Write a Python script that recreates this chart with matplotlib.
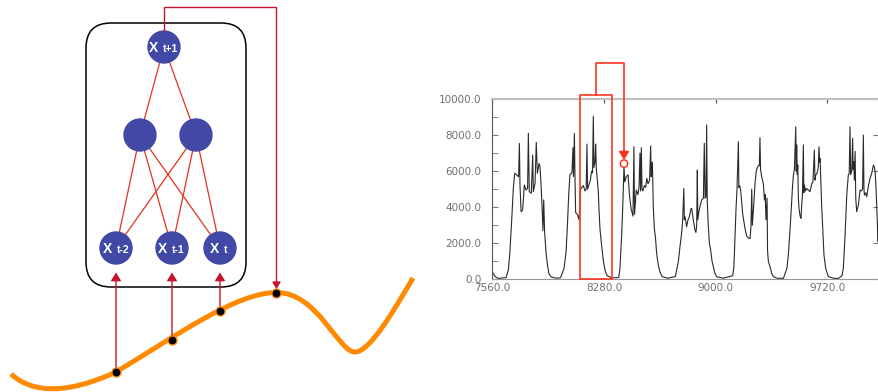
import numpy as np
import matplotlib.pyplot as plt
from matplotlib.patches import Circle, FancyBboxPatch, Rectangle, PathPatch
from matplotlib.path import Path

# ----------------------------------------------------------
# data: time series (index, value)
# ----------------------------------------------------------
ts_x = [7560, 7577, 7598, 7648, 7663, 7673, 7684, 7695, 7704, 7717, 7729, 7734, 7738, 7745,
        7755, 7766, 7777, 7787, 7792, 7798, 7811, 7820, 7824, 7835, 7843, 7850, 7861, 7867,
        7873, 7880, 7886, 7891, 7897, 7906, 7915, 7925, 7940, 7975, 8000,
        8022, 8035, 8043, 8052, 8060, 8073, 8080, 8083, 8089, 8093, 8097, 8108, 8119, 8129,
        8147, 8157, 8165, 8170, 8174, 8185, 8192, 8200, 8206, 8211, 8215, 8222, 8226, 8230,
        8236, 8243, 8248, 8254, 8263, 8276, 8288, 8300, 8330, 8375,
        8383, 8394, 8402, 8409, 8414, 8424, 8435, 8445, 8455, 8467, 8473, 8477, 8488, 8499,
        8506, 8512, 8516, 8521, 8525, 8531, 8540, 8549, 8556, 8564, 8574, 8581, 8584, 8588,
        8592, 8598, 8605, 8612, 8620, 8630, 8641, 8655, 8690, 8740,
        8760, 8770, 8781, 8787, 8795, 8798, 8803, 8813, 8822, 8831, 8840, 8846, 8856, 8867,
        8873, 8878, 8882, 8885, 8893, 8899, 8910, 8921, 8927, 8932, 8938, 8942, 8946, 8952,
        8960, 8968, 8977, 8985, 8995, 9007, 9050,
        9110, 9118, 9125, 9132, 9138, 9147, 9150, 9155, 9162, 9175, 9190, 9200, 9211, 9222,
        9228, 9233, 9237, 9245, 9254, 9262, 9269, 9276, 9282, 9286, 9290, 9297, 9308, 9315,
        9320, 9325, 9332, 9335, 9340, 9351, 9362, 9373, 9394, 9437,
        9460, 9469, 9478, 9487, 9495, 9502, 9508, 9517, 9520, 9523, 9527, 9530, 9534, 9538,
        9545, 9551, 9556, 9560, 9566, 9569, 9573, 9580, 9588, 9598, 9609, 9620, 9628, 9637,
        9641, 9646, 9655, 9662, 9667, 9671, 9674, 9678, 9684, 9691, 9699, 9710, 9727, 9760,
        9792,
        9815, 9824, 9835, 9846, 9856, 9862, 9867, 9871, 9878, 9884, 9887, 9891, 9895, 9900,
        9904, 9910, 9921, 9932, 9940, 9948, 9953, 9957, 9960, 9968, 9975, 9985, 9996, 10007,
        10018, 10025, 10029, 10035, 10039, 10044, 10046, 10054]
ts_y = [400, 150, 50, 90, 520, 1530, 3200, 5050, 5880, 5780, 5690, 7540, 5230, 3750,
        3840, 5230, 4950, 5040, 8100, 4860, 4770, 6900, 4860, 5320, 7600, 5880, 6430, 6250,
        5410, 4120, 2700, 4400, 2600, 1500, 800, 300, 120, 60, 90,
        600, 1500, 2800, 4650, 5800, 5900, 7300, 5700, 8100, 5500, 3700, 3600, 3300, 5000,
        5200, 4900, 5000, 7500, 5000, 5300, 5500, 6000, 5900, 9050, 6200, 6500, 7500, 6200,
        5600, 4900, 3800, 2800, 2000, 1000, 450, 200, 80, 100,
        600, 2450, 4300, 6300, 5400, 5700, 5800, 4600, 3900, 3500, 7350, 3600, 4950, 4700,
        5100, 7000, 4900, 7300, 5000, 4900, 5200, 5100, 5600, 5300, 5500, 7400, 5700, 5900,
        6500, 4000, 2800, 2300, 1400, 800, 400, 150, 60, 150,
        1000, 1800, 2600, 3200, 5040, 3300, 3470, 2920, 3300, 3470, 3900, 3930, 3300, 2730,
        2600, 3000, 6060, 3300, 3800, 4030, 4400, 4490, 7540, 4500, 4580, 8560, 4400, 3100,
        2000, 1620, 1000, 700, 350, 140, 60,
        200, 700, 2300, 4000, 5000, 7630, 5100, 5200, 4900, 3600, 2800, 2400, 2300, 2250,
        2900, 5000, 3000, 4000, 5300, 6000, 6200, 6300, 6300, 7850, 6100, 5700, 5300, 4400,
        4700, 3300, 4500, 1600, 1000, 700, 330, 145, 60, 50,
        600, 1350, 2500, 3750, 5000, 5780, 6060, 8460, 6000, 7450, 5800, 6340, 4500, 3930,
        3500, 3380, 4200, 4670, 7450, 4800, 5230, 4900, 5040, 4950, 4860, 5300, 5400, 7170,
        5500, 5780, 5900, 6200, 7350, 6500, 6700, 5700, 4120, 2830, 1350, 610, 150, 60,
        50,
        200, 610, 2450, 4670, 5780, 5900, 8460, 5800, 6000, 7820, 6100, 6520, 5500, 7100,
        4500, 3750, 4120, 4950, 4900, 5000, 8000, 5000, 4670, 4800, 4580, 5140, 5600, 5880,
        6340, 6200, 5970, 5000, 4120, 3000, 2090, 2000]

xtick_vals = [7560, 8280, 9000, 9720]
ytick_vals = [0, 2000, 4000, 6000, 8000, 10000]

# ----------------------------------------------------------
# diagram geometry (pixel space, y down)
# ----------------------------------------------------------
# orange signal curve as cubic bezier segments: start, ctrl1, ctrl2, end ...
curve_pts = [(11, 374),
             (33, 394), (68, 394), (116, 372),
             (176, 336), (236, 292.5), (276.5, 292.5),
             (318, 292.5), (338, 352), (355, 352),
             (370, 352), (394, 310), (413, 278)]

samples_x = [116, 172, 220, 276.5]
samples_y = [371.5, 339.5, 311, 292.5]

nodes = {
    "t+1": (164, 47),
    "h1": (140, 135),
    "h2": (196, 135),
    "t-2": (116, 248),
    "t-1": (172, 248),
    "t": (220, 248),
}
edges = [("t+1", "h1"), ("t+1", "h2"),
         ("h1", "t-2"), ("h1", "t-1"), ("h1", "t"),
         ("h2", "t-2"), ("h2", "t-1"), ("h2", "t")]
x_end = {"t+1": -6, "t-2": -4, "t-1": -5, "t": -1}

node_col = "#4148a6"
edge_col = "#e4321e"
arrow_col = "#c4162c"
orange = "#ff8a00"
red = "#ff3322"

fig = plt.figure(figsize=(8.79, 3.92), dpi=100)

# ----------------------------------------------------------
# right panel: time series
# ----------------------------------------------------------
ax = fig.add_axes([492.4 / 879, (392 - 279.3) / 392, (879 - 492.4) / 879, (279.3 - 99) / 392])
ax.plot(ts_x, ts_y, color="#2a2a2a", lw=0.8)
ax.set_xlim(7560, 10054)
ax.set_ylim(0, 10000)
ax.set_xticks(xtick_vals)
ax.set_xticklabels([f"{v:.1f}" for v in xtick_vals])
ax.set_yticks(ytick_vals)
ax.set_yticklabels([f"{v:.1f}" for v in ytick_vals])
ax.set_yticks(np.arange(1000, 10000, 2000), minor=True)
ax.tick_params(axis="y", which="both", direction="in", length=4, color="#777777",
               labelsize=7.5, labelcolor="#707070", pad=8, right=True)
ax.tick_params(axis="y", which="minor", right=False)
ax.tick_params(axis="x", which="both", bottom=False, top=True, direction="in", length=3,
               color="#444444", labelsize=7.5, labelcolor="#707070", pad=3)
ax.spines["right"].set_visible(False)
ax.spines["top"].set_color("#c0c0c0")
ax.spines["top"].set_linewidth(1.6)
ax.spines["left"].set_color("#555555")
ax.spines["bottom"].set_color("#999999")
ax.patch.set_alpha(0)

# ----------------------------------------------------------
# overlay in pixel space: network diagram + annotations
# ----------------------------------------------------------
ov = fig.add_axes([0, 0, 1, 1])
ov.set_xlim(0, 879)
ov.set_ylim(392, 0)
ov.axis("off")
ov.patch.set_visible(False)

box = FancyBboxPatch((86, 23), 160, 264, boxstyle="round,pad=0,rounding_size=25",
                     fc="none", ec="black", lw=1.1, zorder=1)
ov.add_patch(box)

for a, b in edges:
    (x1, y1), (x2, y2) = nodes[a], nodes[b]
    ov.plot([x1, x2], [y1, y2], color=edge_col, lw=0.9, zorder=2)

for name, (cx, cy) in nodes.items():
    ov.add_patch(Circle((cx, cy), 16, color=node_col, zorder=3))
    if name in x_end:
        xe = cx + x_end[name]
        ov.text(xe, cy + 4.6, "X", color="white", fontsize=10, fontweight="bold",
                ha="right", va="baseline", family="Liberation Sans", zorder=4)
        ov.text(xe + 4.5, cy + 4.6, name, color="white", fontsize=7.5, fontweight="bold",
                ha="left", va="baseline", family="Liberation Sans", zorder=4)

# orange signal curve
codes = [Path.MOVETO] + [Path.CURVE4] * (len(curve_pts) - 1)
ov.add_patch(PathPatch(Path(curve_pts, codes), fc="none", ec=orange, lw=3.6,
                       capstyle="butt", zorder=2))

# arrows from curve samples to inputs
arrow_style = "-|>,head_length=0.45,head_width=0.28"
for key, sx, sy in zip(["t-2", "t-1", "t"], samples_x[:3], samples_y[:3]):
    ov.annotate("", xy=(nodes[key][0], 272.5), xytext=(sx, sy),
                arrowprops=dict(arrowstyle=arrow_style, color=arrow_col, lw=1.0,
                                mutation_scale=11, shrinkA=0, shrinkB=0), zorder=3)

# output loop back to the curve
ov.plot([164, 164, 276.5, 276.5], [31, 7, 7, 282], color=arrow_col, lw=1.0, zorder=3)
ov.annotate("", xy=(276.5, 289), xytext=(276.5, 281),
            arrowprops=dict(arrowstyle=arrow_style, color=arrow_col, lw=1.0,
                            mutation_scale=9, shrinkA=0, shrinkB=0), zorder=3)

ov.plot(samples_x, samples_y, "o", ms=6.5, mfc="black", mec=orange, mew=0.9, zorder=5)

# red window + prediction marker on the right panel
ov.add_patch(Rectangle((580, 95), 32, 184, fc="none", ec=red, lw=1.2, zorder=6))
ov.plot([596, 596, 624, 624], [95, 63, 63, 152], color=red, lw=1.2, zorder=6)
ov.annotate("", xy=(624, 160), xytext=(624, 151),
            arrowprops=dict(arrowstyle=arrow_style, color=red, lw=1.2,
                            mutation_scale=11, shrinkA=0, shrinkB=0), zorder=6)
ov.add_patch(Circle((624, 163.6), 3.7, fc="white", ec=red, lw=1.1, zorder=6))

fig.savefig("out.png", dpi=100)
